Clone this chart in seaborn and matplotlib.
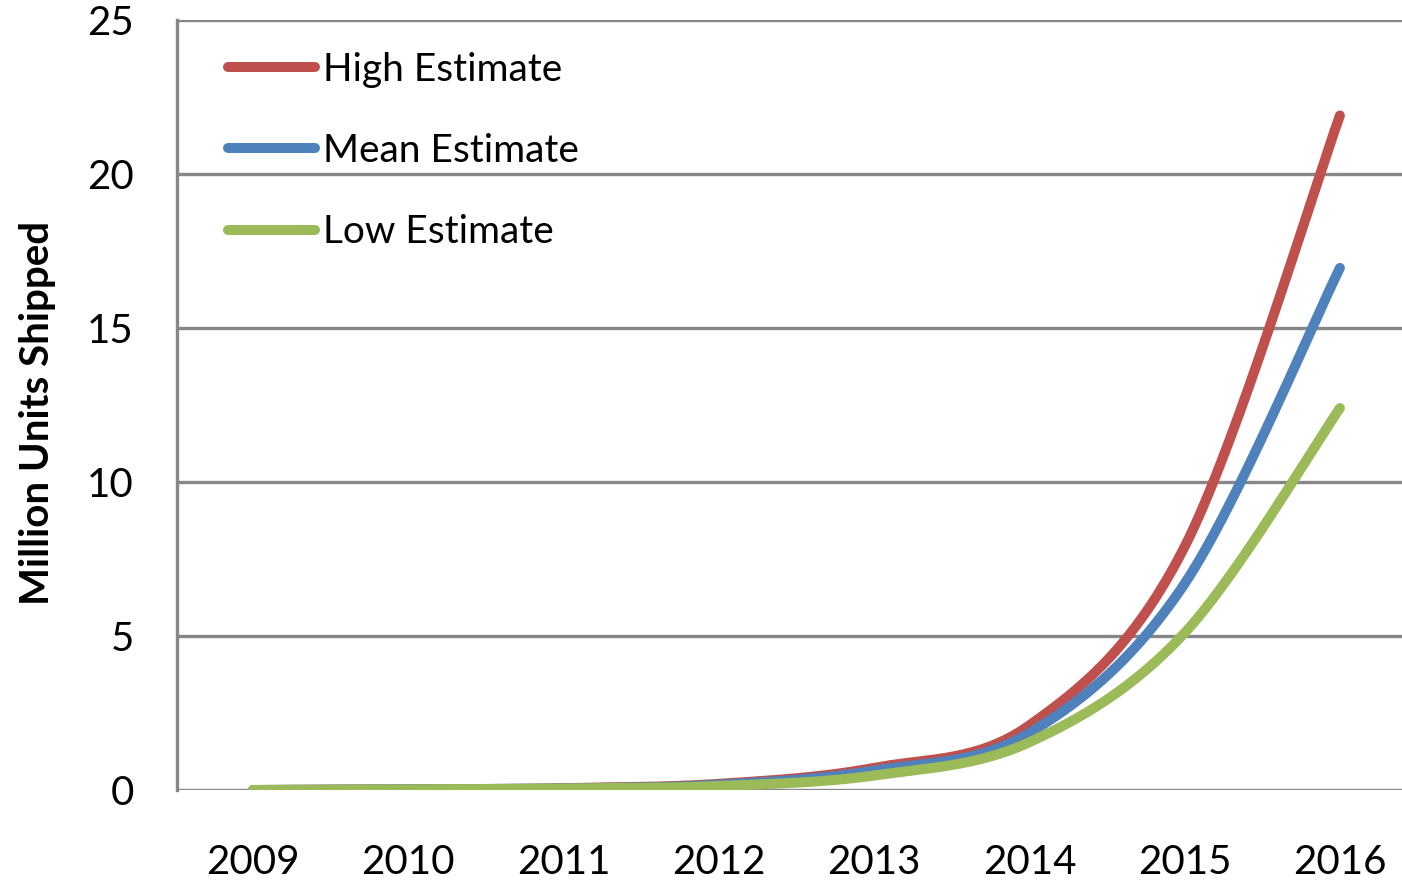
import numpy as np
import pandas as pd
import matplotlib
matplotlib.use("Agg")
import matplotlib.pyplot as plt
import seaborn as sns

# Shipment forecasts (million units) by year
years = [2009, 2010, 2011, 2012, 2013, 2014, 2015, 2016]
high_estimate = [0.0, 0.02, 0.06, 0.20, 0.72, 2.10, 7.90, 21.90]
mean_estimate = [0.0, 0.02, 0.05, 0.17, 0.63, 1.85, 6.70, 16.95]
low_estimate = [0.0, 0.02, 0.05, 0.13, 0.47, 1.55, 5.10, 12.40]

series_names = ["High Estimate", "Mean Estimate", "Low Estimate"]
series_colors = ["#C0504D", "#4F81BD", "#9BBB59"]
y_ticks = [0, 5, 10, 15, 20, 25]


def smooth_curve(x, y, steps=60):
    """Smoothed path through the points (cubic Bezier, Catmull-Rom style)."""
    x = np.asarray(x, float)
    y = np.asarray(y, float)
    px = np.concatenate([[x[0]], x, [x[-1]]])
    py = np.concatenate([[y[0]], y, [y[-1]]])
    xs, ys = [], []
    t = np.linspace(0, 1, steps, endpoint=False)
    for i in range(1, len(px) - 2):
        p0 = np.array([px[i], py[i]])
        p3 = np.array([px[i + 1], py[i + 1]])
        c1 = p0 + (p3 - np.array([px[i - 1], py[i - 1]])) / 6.0
        c2 = p3 - (np.array([px[i + 2], py[i + 2]]) - p0) / 6.0
        b = ((1 - t) ** 3)[:, None] * p0 + (3 * (1 - t) ** 2 * t)[:, None] * c1 \
            + (3 * (1 - t) * t ** 2)[:, None] * c2 + (t ** 3)[:, None] * p3
        xs.append(b[:, 0])
        ys.append(b[:, 1])
    xs.append([x[-1]])
    ys.append([y[-1]])
    return np.concatenate(xs), np.concatenate(ys)


frames = []
for name, vals in zip(series_names, [high_estimate, mean_estimate, low_estimate]):
    sx, sy = smooth_curve(years, vals)
    frames.append(pd.DataFrame({"Year": sx, "Units": sy, "Series": name}))
df = pd.concat(frames, ignore_index=True)

sns.set_theme(style="white")
plt.rcParams["font.family"] = ["Lato", "DejaVu Sans"]
plt.rcParams["text.color"] = "black"
plt.rcParams["axes.labelcolor"] = "black"

fig = plt.figure(figsize=(14.02, 8.82), dpi=100)
ax = fig.add_axes([177 / 1402, 1 - 790 / 882, 1 - 177 / 1402, (790 - 20) / 882])

grid_color = "#878787"
for yv in y_ticks:
    ax.axhline(yv, color=grid_color, lw=2.4, zorder=1)

sns.lineplot(data=df, x="Year", y="Units", hue="Series", hue_order=series_names,
             palette=series_colors, sort=False, estimator=None, units="Series",
             linewidth=7.2, ax=ax, zorder=3, legend=True)
for line in ax.get_lines():
    line.set_solid_capstyle("round")
    line.set_solid_joinstyle("round")

ax.set_xlim(2008.51, 2016.40)
ax.set_ylim(0, 25)
ax.set_yticks(y_ticks)
ax.set_xticks(years)
ax.set_xticklabels([str(y) for y in years])
ax.tick_params(axis="both", length=0, labelsize=29, colors="black")
ax.tick_params(axis="y", pad=31)
ax.tick_params(axis="x", pad=39)

for side in ["top", "right", "bottom"]:
    ax.spines[side].set_visible(False)
ax.spines["left"].set_color(grid_color)
ax.spines["left"].set_linewidth(2.4)

ax.set_xlabel("")
ax.set_ylabel("Million Units Shipped", fontsize=29, fontweight="bold", color="black")
ax.yaxis.set_label_coords(-0.099, 0.49)

handles, labels = ax.get_legend_handles_labels()
for h in handles:
    h.set_linewidth(7.2)
    h.set_solid_capstyle("round")
leg = ax.legend(handles, labels, loc="upper left",
                bbox_to_anchor=(228 / 1402, 1 - 52 / 882), bbox_transform=fig.transFigure,
                frameon=False, fontsize=28, handlelength=2.24, handletextpad=0.2,
                labelspacing=1.16, borderpad=0, borderaxespad=0)
for txt in leg.get_texts():
    txt.set_color("black")

fig.savefig("out.png", dpi=100)
